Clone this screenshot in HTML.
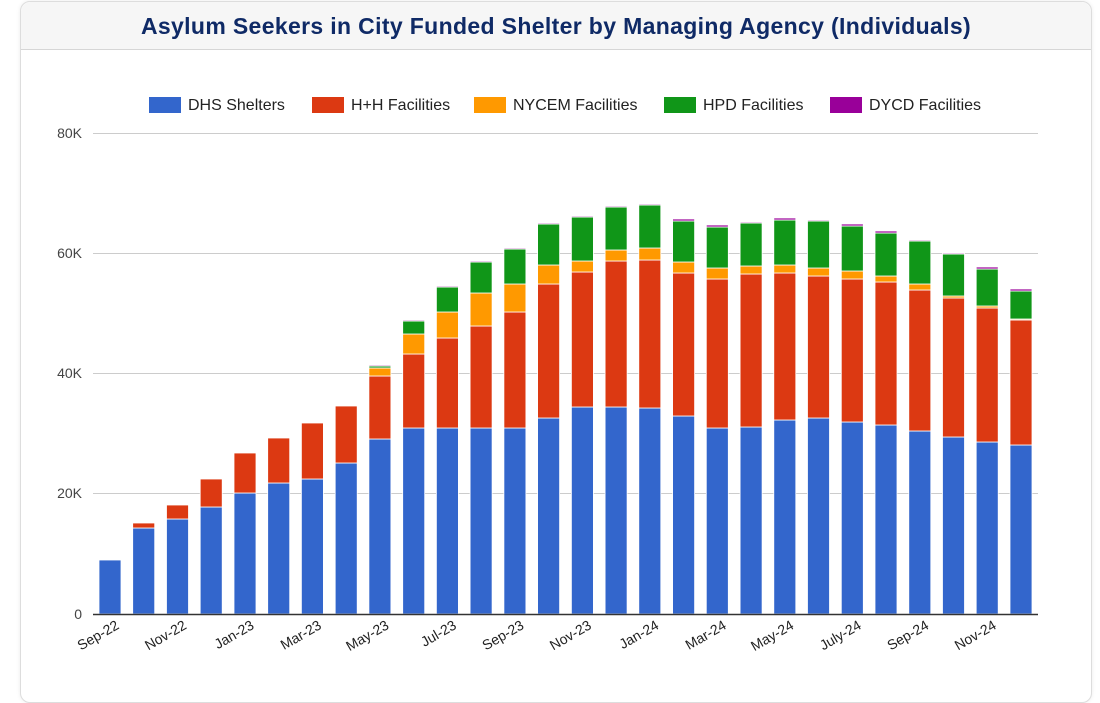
<!DOCTYPE html>
<html><head><meta charset="utf-8"><style>
body{margin:0;background:#fff;width:1100px;height:673px;overflow:hidden;font-family:"Liberation Sans",Arial,sans-serif}
.card{position:absolute;left:20px;top:1px;width:1070px;height:700px;border:1px solid #ddd;border-radius:10px;background:#fff;box-shadow:0 0 4px rgba(0,0,0,.08)}
.hdr{height:47px;background:#f6f6f6;border-bottom:1px solid #d6d6d6;border-radius:10px 10px 0 0;text-align:center;font-weight:bold;font-size:23px;letter-spacing:0.35px;color:#0f2a66;line-height:48px}
svg{position:absolute;left:0;top:0}
</style></head><body>
<div class="card"><div class="hdr">Asylum Seekers in City Funded Shelter by Managing Agency (Individuals)</div></div>
<svg width="1100" height="673" font-family="Liberation Sans,Arial,sans-serif">
<g stroke="#ccc" stroke-width="1">
<line x1="93" x2="1038" y1="133.5" y2="133.5"/><line x1="93" x2="1038" y1="253.5" y2="253.5"/><line x1="93" x2="1038" y1="373.5" y2="373.5"/><line x1="93" x2="1038" y1="493.5" y2="493.5"/>
</g>
<g font-size="14" fill="#444" text-anchor="end">
<text x="82" y="138">80K</text><text x="82" y="258">60K</text><text x="82" y="378">40K</text><text x="82" y="498">20K</text><text x="82" y="619">0</text>
</g>
<g font-size="16" fill="#222">
<rect x="149" y="97" width="32" height="16" fill="#3366cc"/><text x="188" y="110">DHS Shelters</text>
<rect x="312" y="97" width="32" height="16" fill="#dc3912"/><text x="351" y="110">H+H Facilities</text>
<rect x="474" y="97" width="32" height="16" fill="#ff9900"/><text x="513" y="110">NYCEM Facilities</text>
<rect x="664" y="97" width="32" height="16" fill="#109618"/><text x="703" y="110">HPD Facilities</text>
<rect x="830" y="97" width="32" height="16" fill="#990099"/><text x="869" y="110">DYCD Facilities</text>
</g>
<g id="bars"></g>
<line x1="93" x2="1038" y1="614.5" y2="614.5" stroke="#333" stroke-width="1.5"/>
<g font-size="14" fill="#222" text-anchor="end">
<text transform="translate(120,628) rotate(-30)">Sep-22</text>
<text transform="translate(187.5,628) rotate(-30)">Nov-22</text>
<text transform="translate(255,628) rotate(-30)">Jan-23</text>
<text transform="translate(322.4,628) rotate(-30)">Mar-23</text>
<text transform="translate(389.9,628) rotate(-30)">May-23</text>
<text transform="translate(457.4,628) rotate(-30)">Jul-23</text>
<text transform="translate(524.9,628) rotate(-30)">Sep-23</text>
<text transform="translate(592.4,628) rotate(-30)">Nov-23</text>
<text transform="translate(659.8,628) rotate(-30)">Jan-24</text>
<text transform="translate(727.3,628) rotate(-30)">Mar-24</text>
<text transform="translate(794.8,628) rotate(-30)">May-24</text>
<text transform="translate(862.3,628) rotate(-30)">July-24</text>
<text transform="translate(929.8,628) rotate(-30)">Sep-24</text>
<text transform="translate(997.2,628) rotate(-30)">Nov-24</text>
</g>
</svg>
<script>
var d=[[560,560,560,560,560],[528,523,523,523,523],[519,505,505,505,505],[507,479,479,479,479],[493,453,453,453,453],[483,438,438,438,438],[479,423,423,423,423],[463,406,406,406,406],
[439,376,368,366,365],[428,354,334,321,320],[428,338,312,287,286],[428,326,293,262,261],[428,312,284,249,248],[418,284,265,224,223],[407,272,261,217,216],[407,261,250,207,206],[408,260,248,205,204],[416,273,262,221,219],[428,279,268,227,225],[427,274,266,223,222],[420,273,265,220,218],[418,276,268,221,220],[422,279,271,226,224],[425,282,276,233,231],[431,290,284,241,240],[437,298,296,254,253],[442,308,306,269,267],[445,320,319,291,289]];
var c=["#3366cc","#dc3912","#ff9900","#109618","#990099"],s="";
d.forEach(function(b,i){var x=99+i*33.74,prev=614;for(var k=0;k<5;k++){var t=b[k];if(prev-t>0.5){s+='<rect x="'+x.toFixed(1)+'" y="'+t+'" width="22" height="'+(prev-t)+'" fill="'+c[k]+'" stroke="#fff" stroke-width="0.8"/>';}prev=t;}});
document.getElementById("bars").innerHTML=s;
</script>
</body></html>
